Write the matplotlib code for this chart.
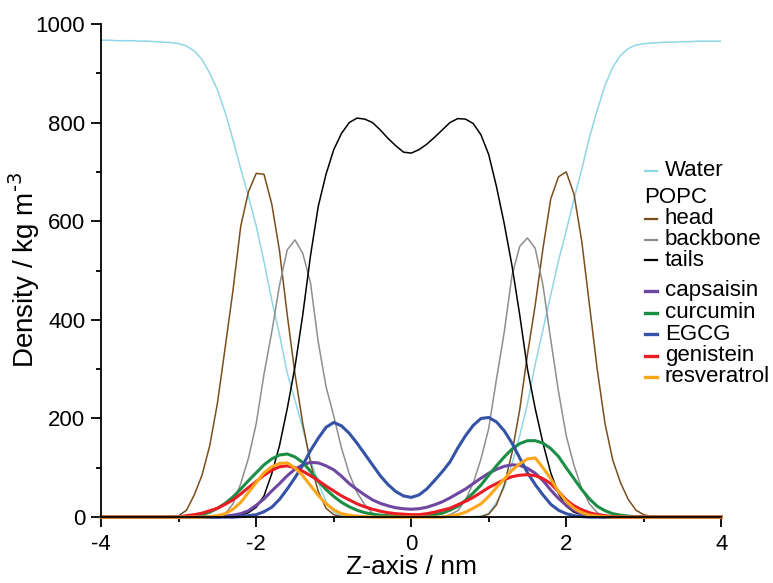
import numpy as np
import matplotlib
matplotlib.use("Agg")
import matplotlib.pyplot as plt
from matplotlib.lines import Line2D
from matplotlib.ticker import MultipleLocator

plt.rcParams['font.family'] = ['Liberation Sans', 'DejaVu Sans']
plt.rcParams['mathtext.default'] = 'regular'
plt.rcParams['axes.unicode_minus'] = False

# z grid, -4 .. 4 nm in 0.1 nm steps
z = np.round(np.linspace(-4.0, 4.0, 81), 1)

water = ([967, 967, 966, 966, 966, 965, 965, 964,
          963, 962, 960, 955, 945, 928, 900, 866, 820, 765, 706, 650, 590, 518, 440,
          370, 292, 237, 180, 118, 70, 32, 10, 3, 1]
         + [0] * 15
         + [1, 2, 8, 30, 60, 108, 165, 230, 310, 380, 450, 520, 580, 645, 705, 770,
            825, 875, 912, 936, 950, 957, 960, 961, 962]
         + [963, 963, 964, 964, 965, 965, 965, 965])

head = ([0] * 10
        + [3, 14, 45, 85, 145, 232, 345, 460, 590, 660, 697, 695, 635, 540, 410, 290,
           190, 110, 52, 18, 5, 1]
        + [0] * 17
        + [1, 6, 25, 65, 130, 218, 330, 430, 545, 645, 690, 700, 655, 560, 430, 300,
           190, 116, 70, 36, 14, 5, 1]
        + [0] * 9)

backbone = ([0] * 15
            + [2, 7, 27, 68, 120, 190, 290, 375, 470, 542, 562, 535, 475, 355, 265, 205,
               140, 88, 50, 25, 8, 2]
            + [0] * 7
            + [1, 5, 13, 35, 69, 118, 180, 280, 375, 490, 549, 566, 545, 470, 360, 255,
               165, 105, 58, 27, 9, 2]
            + [0] * 15)

tails = ([0] * 17
         + [1, 4, 9, 20, 43, 88, 145, 220, 305, 410, 530, 630, 695, 745, 778, 800, 809,
            807, 800, 785, 768, 753, 740]
         + [738]
         + [745, 756, 770, 785, 800, 808, 807, 798, 775, 735, 670, 595, 510, 410, 300,
            220, 150, 90, 48, 22, 10, 5, 2]
         + [0] * 17)

capsaicin = ([0] * 16
             + [2, 4, 7, 13, 24, 37, 53, 68, 84, 97, 106, 111, 110, 104, 96, 83, 68, 56,
                45, 35, 28, 23, 19, 17, 16, 17, 20, 25, 31, 39, 48, 57, 68, 79, 89, 97,
                103, 106, 105, 99, 89, 74, 55, 38, 24, 14, 7, 3, 1]
             + [0] * 16)

curcumin = ([0] * 12
            + [2, 5, 10, 18, 28, 41, 57, 74, 90, 106, 118, 126, 128, 122, 111, 93, 73,
               56, 42, 30, 21, 14, 9, 6, 4, 3, 2, 2, 2, 2, 3, 5, 8, 14, 22, 34, 49, 65,
               85, 104, 122, 138, 149, 155, 155, 150, 139, 123, 100, 78, 56, 37, 22, 13,
               7, 4, 2, 1]
            + [0] * 11)

egcg = ([0] * 18
        + [1, 3, 5, 11, 20, 36, 57, 80, 105, 135, 160, 182, 192, 185, 170, 150, 128, 106,
           84, 66, 52, 43, 40, 45, 57, 74, 92, 112, 140, 165, 186, 200, 202, 193, 175,
           150, 120, 90, 66, 45, 26, 14, 7, 3, 1]
        + [0] * 18)

genistein = ([0] * 11
             + [3, 5, 8, 13, 18, 26, 35, 47, 60, 72, 85, 95, 102, 104, 100, 93, 84, 74,
                63, 53, 43, 35, 27, 21, 16, 12, 9, 7, 6, 5, 5, 7, 10, 14, 18, 25, 32, 40,
                50, 60, 68, 76, 82, 85, 86, 84, 78, 68, 52, 35, 23, 15, 9, 5, 3, 1]
             + [0] * 14)

resveratrol = ([0] * 14
               + [1, 3, 7, 16, 30, 50, 70, 90, 102, 109, 110, 100, 84, 64, 44, 27, 15, 7,
                  4, 2, 1]
               + [0] * 10
               + [2, 5, 10, 18, 27, 42, 60, 77, 95, 108, 118, 120, 100, 78, 52, 32, 18,
                  9, 4, 2, 1]
               + [0] * 15)

popc_names = ['Water', 'head', 'backbone', 'tails']
popc_series = [water, head, backbone, tails]
popc_colors = ['#8fd6e6', '#7a4e1c', '#8e8e8e', '#000000']

drug_names = ['capsaisin', 'curcumin', 'EGCG', 'genistein', 'resveratrol']
drug_series = [capsaicin, curcumin, egcg, genistein, resveratrol]
drug_colors = ['#6f46a0', '#1b8e45', '#3553a6', '#ec1c24', '#fca61c']

fig = plt.figure(figsize=(7.73, 5.83), dpi=100)
ax = fig.add_axes([0.131, 0.113, 0.802, 0.846])

for vals, col in zip(popc_series, popc_colors):
    ax.plot(z, vals, color=col, lw=1.1)
for vals, col in zip(drug_series, drug_colors):
    ax.plot(z, vals, color=col, lw=2.2, clip_on=False)

ax.set_xlim(-4, 4)
ax.set_ylim(0, 1000)
ax.xaxis.set_major_locator(MultipleLocator(2))
ax.xaxis.set_minor_locator(MultipleLocator(1))
ax.yaxis.set_major_locator(MultipleLocator(200))
ax.yaxis.set_minor_locator(MultipleLocator(100))
for s in ['top', 'right']:
    ax.spines[s].set_visible(False)
for s in ['left', 'bottom']:
    ax.spines[s].set_linewidth(1.3)
ax.tick_params(which='major', direction='out', length=7.5, width=1.3, labelsize=16)
ax.tick_params(which='minor', direction='out', length=3.5, width=1.3)
ax.tick_params(axis='y', which='major', pad=4)
ax.tick_params(axis='x', which='major', pad=5)

ax.set_xlabel('Z-axis / nm', fontsize=19)
ax.set_ylabel('Density / kg m$^{\\text{-3}}$', fontsize=20)
ax.xaxis.set_label_coords(0.5, -0.077)
ax.yaxis.set_label_coords(-0.095, 0.5)

# hand-made legend, positions in pixels of the 773x583 figure
W, H = 773.0, 583.0


def px(x, y):
    return x / W, 1 - y / H


def entry(y, label, color, lw):
    x0, yy = px(645, y)
    x1, _ = px(657, y)
    fig.add_artist(Line2D([x0, x1], [yy, yy], color=color, lw=lw))
    tx, ty = px(665, y)
    fig.text(tx, ty, label, fontsize=16, va='center', ha='left')


entry(171, popc_names[0], popc_colors[0], 1.6)
hx, hy = px(644, 198)
fig.text(hx, hy, 'POPC', fontsize=16, va='center', ha='left')
for i in range(1, 4):
    entry(219 + (i - 1) * 20.5, popc_names[i], popc_colors[i], 1.6)
for i, (n, c) in enumerate(zip(drug_names, drug_colors)):
    entry(291 + i * 21.5, n, c, 2.4)

fig.savefig('out.png', dpi=100)
